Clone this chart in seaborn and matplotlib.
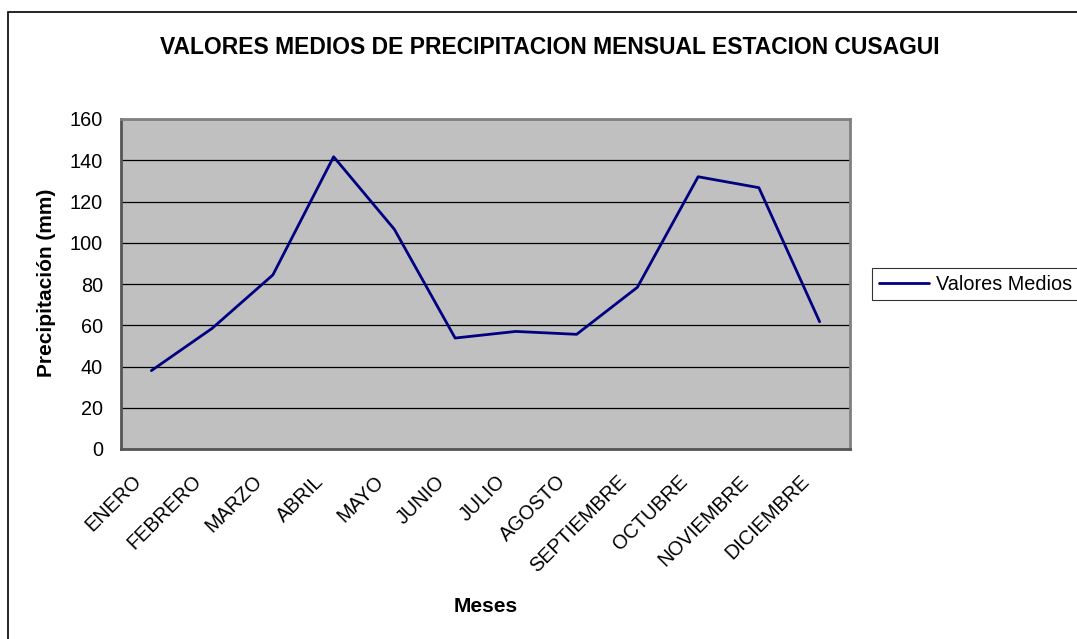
import matplotlib
matplotlib.use("Agg")
import matplotlib.pyplot as plt
import matplotlib.transforms as mtransforms
from matplotlib.patches import Rectangle
import seaborn as sns
import pandas as pd

# Data
meses = ["ENERO", "FEBRERO", "MARZO", "ABRIL", "MAYO", "JUNIO", "JULIO",
         "AGOSTO", "SEPTIEMBRE", "OCTUBRE", "NOVIEMBRE", "DICIEMBRE"]
valores_medios = [38.0, 58.5, 84.4, 141.7, 106.5, 53.8, 57.0, 55.6, 78.4, 132.0, 126.7, 61.7]
y_ticks = [0, 20, 40, 60, 80, 100, 120, 140, 160]

df = pd.DataFrame({"Mes": meses, "Valores Medios": valores_medios})

sns.set_style("white")
plt.rcParams["font.family"] = ["Liberation Sans", "DejaVu Sans"]
plt.rcParams["text.color"] = "black"
plt.rcParams["xtick.color"] = "black"
plt.rcParams["ytick.color"] = "black"

W, H = 1077, 639
fig = plt.figure(figsize=(W / 100, H / 100), dpi=100)
ax = fig.add_axes([121 / W, 1 - 449 / H, (850 - 121) / W, (449 - 119) / H])
ax.set_facecolor("#C0C0C0")

sns.lineplot(data=df, x="Mes", y="Valores Medios", ax=ax, color="#000080",
             linewidth=2, label="Valores Medios", sort=False)

ax.set_xlim(-0.5, len(meses) - 0.5)
ax.set_ylim(0, 160)
ax.set_yticks(y_ticks)
ax.set_yticklabels([str(v) for v in y_ticks], fontsize=14.3)
ax.yaxis.grid(True, color="black", linewidth=0.9)
ax.set_axisbelow(True)

# category ticks between months, labels at centers
ax.set_xticks(range(len(meses)))
ax.set_xticklabels(meses, fontsize=14.3, rotation=45, ha="right", va="top",
                   rotation_mode="anchor")
ax.set_xticks([i - 0.5 for i in range(len(meses) + 1)], minor=True)
ax.tick_params(axis="x", which="major", length=0, pad=16.5)
ax.tick_params(axis="x", which="minor", length=5, width=1, color="#333333", direction="out")
ax.tick_params(axis="y", length=5, width=1, color="#333333", direction="out", pad=8)
offset = mtransforms.ScaledTranslation(-20 / 100, 0, fig.dpi_scale_trans)
for lab in ax.get_xticklabels():
    lab.set_transform(lab.get_transform() + offset)

for side in ["left", "bottom", "top", "right"]:
    ax.spines[side].set_visible(True)
    ax.spines[side].set_color("#808080")
    ax.spines[side].set_linewidth(2)
ax.spines["left"].set_color("#555555")
ax.spines["bottom"].set_color("#555555")

ax.set_xlabel("")
ax.set_ylabel("")
fig.text(485.5 / W, 1 - 606 / H, "Meses", fontsize=15, fontweight="bold",
         ha="center", va="center")
fig.text(47 / W, 1 - 283 / H, "Precipitación (mm)", fontsize=15, fontweight="bold",
         ha="center", va="center", rotation=90)
fig.text(550 / W, 1 - 47 / H, "VALORES MEDIOS DE PRECIPITACION MENSUAL ESTACION CUSAGUI",
         fontsize=16.5, fontweight="bold", ha="center", va="center")

leg = ax.legend(loc="center left", bbox_to_anchor=(872 / W, 1 - 284 / H),
                bbox_transform=fig.transFigure, frameon=True, fancybox=False,
                fontsize=14.3, handlelength=2.5, borderaxespad=0, borderpad=0.35,
                handletextpad=0.35)
leg.get_frame().set_edgecolor("black")
leg.get_frame().set_linewidth(0.8)

# outer chart border (right/bottom run off the image)
fig.patches.append(Rectangle((8 / W, -0.05), 1.2, 1 - 12 / H + 0.05,
                             transform=fig.transFigure, fill=False,
                             edgecolor="black", linewidth=1.2))

fig.savefig("out.png", dpi=100)
